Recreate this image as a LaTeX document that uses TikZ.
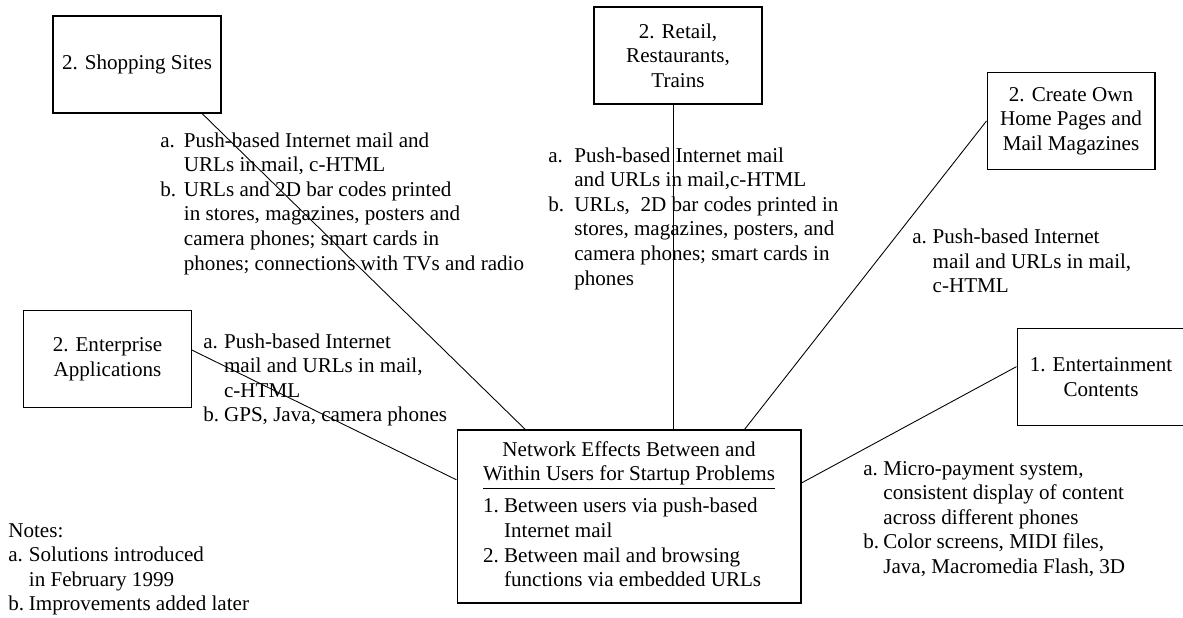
\documentclass[tikz,border=0pt]{standalone}
\usepackage{fontspec}
\setmainfont{Liberation Serif}

% lettered list: label column of given width, then the text
\newcommand{\itemlist}[2]{\begin{tabular}[t]{@{}p{#1}@{}l@{}}#2\end{tabular}}

\begin{document}
\begin{tikzpicture}[x=0.02cm,y=-0.02cm,
	font=\fontsize{12}{14}\selectfont,
	box/.style={draw,line width=0.6pt,minimum width=3.36cm,minimum height=1.94cm,align=center,inner sep=2pt},
	list/.style={anchor=north west,inner sep=0pt},
	link/.style={line width=0.5pt}]
		\useasboundingbox (0,0) rectangle (1183,618);
		\path
		+(137,64.5)  node[box]  (shop) {2. Shopping Sites}
		+(678,55.5)  node[box]  (retail) {2. Retail,\\Restaurants,\\Trains}
		+(1071,121)  node[box]  (home) {2. Create Own\\Home Pages and\\Mail Magazines}
		+(107.5,359) node[box]  (ent) {2. Enterprise\\Applications}
		+(1101,377)  node[box]  (fun) {1. Entertainment\\Contents}
		+(629,516.5) node[draw,line width=0.6pt,minimum width=6.88cm,minimum height=3.46cm,inner sep=0pt] (net)
			{\begin{tabular}{@{}c@{}}Network Effects Between and\\Within Users for Startup Problems\\\hline\noalign{\vskip4pt}
			\multicolumn{1}{@{}l@{}}{\itemlist{12pt}{1.&Between users via push-based\\&Internet mail\\2.&Between mail and browsing\\&functions via embedded URLs}}\end{tabular}}
		;
		% solution lists beside the links
		\node[list] (shoplist) at (160,129.5) {\itemlist{13.4pt}{a.&Push-based Internet mail and\\&URLs in mail, c-HTML\\b.&URLs and 2D bar codes printed\\&in stores, magazines, posters and\\&camera phones; smart cards in\\&phones; connections with TVs and radio}};
		\node[list] (retaillist) at (548,144.5) {\itemlist{14.8pt}{a.&Push-based Internet mail\\&and URLs in mail,c-HTML\\b.&URLs,\ \ 2D bar codes printed in\\&stores, magazines, posters, and\\&camera phones; smart cards in\\&phones}};
		\node[list] (homelist) at (912,226) {\itemlist{11.6pt}{a.&Push-based Internet\\&mail and URLs in mail,\\&c-HTML}};
		\node[list] (entlist) at (203,330.5) {\itemlist{11.8pt}{a.&Push-based Internet\\&mail and URLs in mail,\\&c-HTML\\b.&GPS, Java, camera phones}};
		\node[list] (funlist) at (863,457.5) {\itemlist{11.4pt}{a.&Micro-payment system,\\&consistent display of content\\&across different phones\\b.&Color screens, MIDI files,\\&Java, Macromedia Flash, 3D}};
		\node[list] (notes) at (8,519.5) {\itemlist{11.7pt}{\multicolumn{2}{@{}l@{}}{Notes:}\\a.&Solutions introduced\\&in February 1999\\b.&Improvements added later}};
		% links into the central box
		\coordinate (rfoot) at ([xshift=-1mm]retail.south);
		\draw[link] (shop.-37.6) -- (net.140.25);
		\draw[link] (rfoot) -- (rfoot |- net.north);
		\draw[link] (home.west) -- (net.37.4);
		\draw[link] (ent.6) -- (net.168.7);
		\draw[link] (fun.173.9) -- (net.11.3);
\end{tikzpicture}
\end{document}
